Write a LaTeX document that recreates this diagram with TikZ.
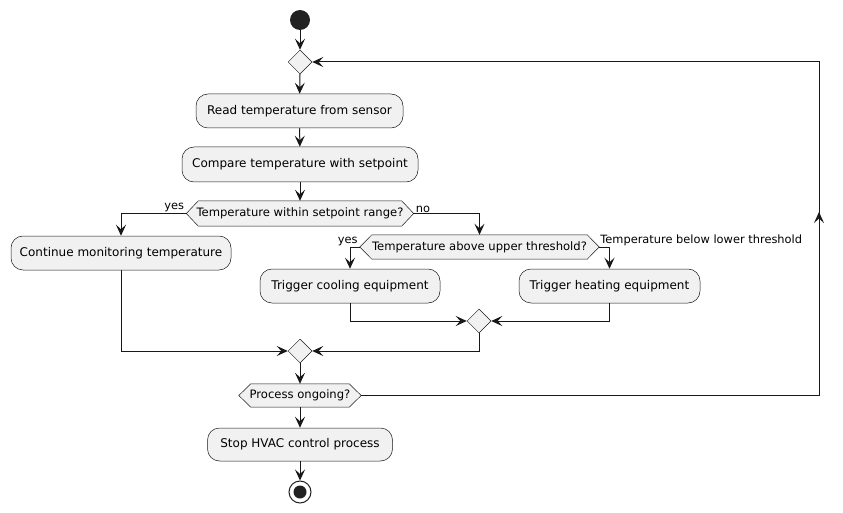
\documentclass[tikz,border=0pt]{standalone}
\usepackage{fontspec}
\setmainfont{DejaVu Sans}
\usetikzlibrary{shapes.geometric,arrows.meta,backgrounds,calc}
\definecolor{fillc}{HTML}{F1F1F1}
\definecolor{linec}{HTML}{181818}
\definecolor{dotc}{HTML}{222222}
\newcommand\hexpath[1]{\path[draw=linec,line width=0.5pt,fill=fillc] (#1.west) -- ([xshift=12pt]#1.north west) -- ([xshift=-12pt]#1.north east) -- (#1.east) -- ([xshift=-12pt]#1.south east) -- ([xshift=12pt]#1.south west) -- cycle;}
\begin{document}
\begin{tikzpicture}[x=1pt,y=-1pt,
 act/.style={draw=linec, line width=0.5pt, fill=fillc, rounded corners=12pt, minimum height=34pt, inner sep=0pt, font=\fontsize{12}{14}\selectfont},
 hexnode/.style={minimum height=25pt, inner sep=0pt, font=\fontsize{11.6}{13}\selectfont},
 merge/.style={diamond, draw=linec, line width=0.5pt, fill=fillc, minimum width=24pt, minimum height=24pt, inner sep=0pt},
 flow/.style={draw=linec, line width=1pt, -{Stealth[length=11pt,width=10pt,inset=4.5pt]}},
 lbl/.style={font=\fontsize{11.4}{13}\selectfont, inner sep=1pt},
]
\useasboundingbox (0,0) rectangle (843,513);

\node[circle, fill=dotc, minimum size=20pt, inner sep=0pt] (start) at (300,20) {};
\node[merge] (m1) at (300,62) {};
\node[act, minimum width=207pt] (r1) at (299.5,111) {Read temperature from sensor};
\node[act, minimum width=236pt, minimum height=35pt] (r2) at (300,164.5) {Compare temperature with setpoint};
\node[hexnode, minimum width=227pt] (d1) at (300,213.5) {Temperature within setpoint range?};
\node[act, minimum width=220pt] (c1) at (121,253) {Continue monitoring temperature};
\node[hexnode, minimum width=239pt, minimum height=24pt] (d2) at (479.5,247) {Temperature above upper threshold?};
\node[act, minimum width=180pt] (cool) at (350,286) {Trigger cooling equipment};
\node[act, minimum width=181pt] (heat) at (609.5,286) {Trigger heating equipment};
\node[merge] (m2) at (479,321) {};
\node[merge] (m3) at (300,351) {};
\node[hexnode, minimum width=122pt, minimum height=23pt] (d4) at (300,395.5) {Process ongoing?};
\node[act, minimum width=185pt, minimum height=33pt] (stop) at (300,444.5) {Stop HVAC control process};
\node[circle, draw=dotc, line width=1pt, fill=white, minimum size=22pt, inner sep=0pt] (endn) at (300,492) {};
\node[circle, fill=dotc, minimum size=13pt, inner sep=0pt] (endd) at (endn.center) {};

\begin{scope}[on background layer]
\fill[white] (0,0) rectangle (843,513);
\hexpath{d1}
\hexpath{d2}
\hexpath{d4}
\end{scope}

\coordinate (lp1) at (819,395.5);
\coordinate (lpm) at (819,212);
\coordinate (lp2) at (819,62);

\draw[flow] (start) -- (m1);
\draw[flow] (m1) -- (r1);
\draw[flow] (r1) -- (r2);
\draw[flow] (r2) -- (d1);
\draw[flow] (d1.west) -| (c1.north);
\draw[flow] (d1.east) -| (d2.north);
\draw[flow] (d2.west) -| (cool.north);
\draw[flow] (d2.east) -| (heat.north);
\draw[flow] (cool.south) |- (m2.west);
\draw[flow] (heat.south) |- (m2.east);
\draw[flow] (m2.south) |- (m3.east);
\draw[flow] (c1.south) |- (m3.west);
\draw[flow] (m3) -- (d4);
\draw[flow] (d4) -- (stop);
\draw[flow] (stop) -- (endn);
\draw[flow] (d4.east) -- (lp1) -- (lp2) -- (m1.east);
\draw[flow] (lp1) -- (lpm);

\node[lbl, anchor=south east] (l1) at ([xshift=-1pt]d1.west) {yes};
\node[lbl, anchor=south west] (l2) at ([xshift=1pt]d1.east) {no};
\node[lbl, anchor=south east] (l3) at ([xshift=-1pt]d2.west) {yes};
\node[lbl, anchor=south west] (l4) at ([xshift=0pt]d2.east) {Temperature below lower threshold};
\end{tikzpicture}
\end{document}
